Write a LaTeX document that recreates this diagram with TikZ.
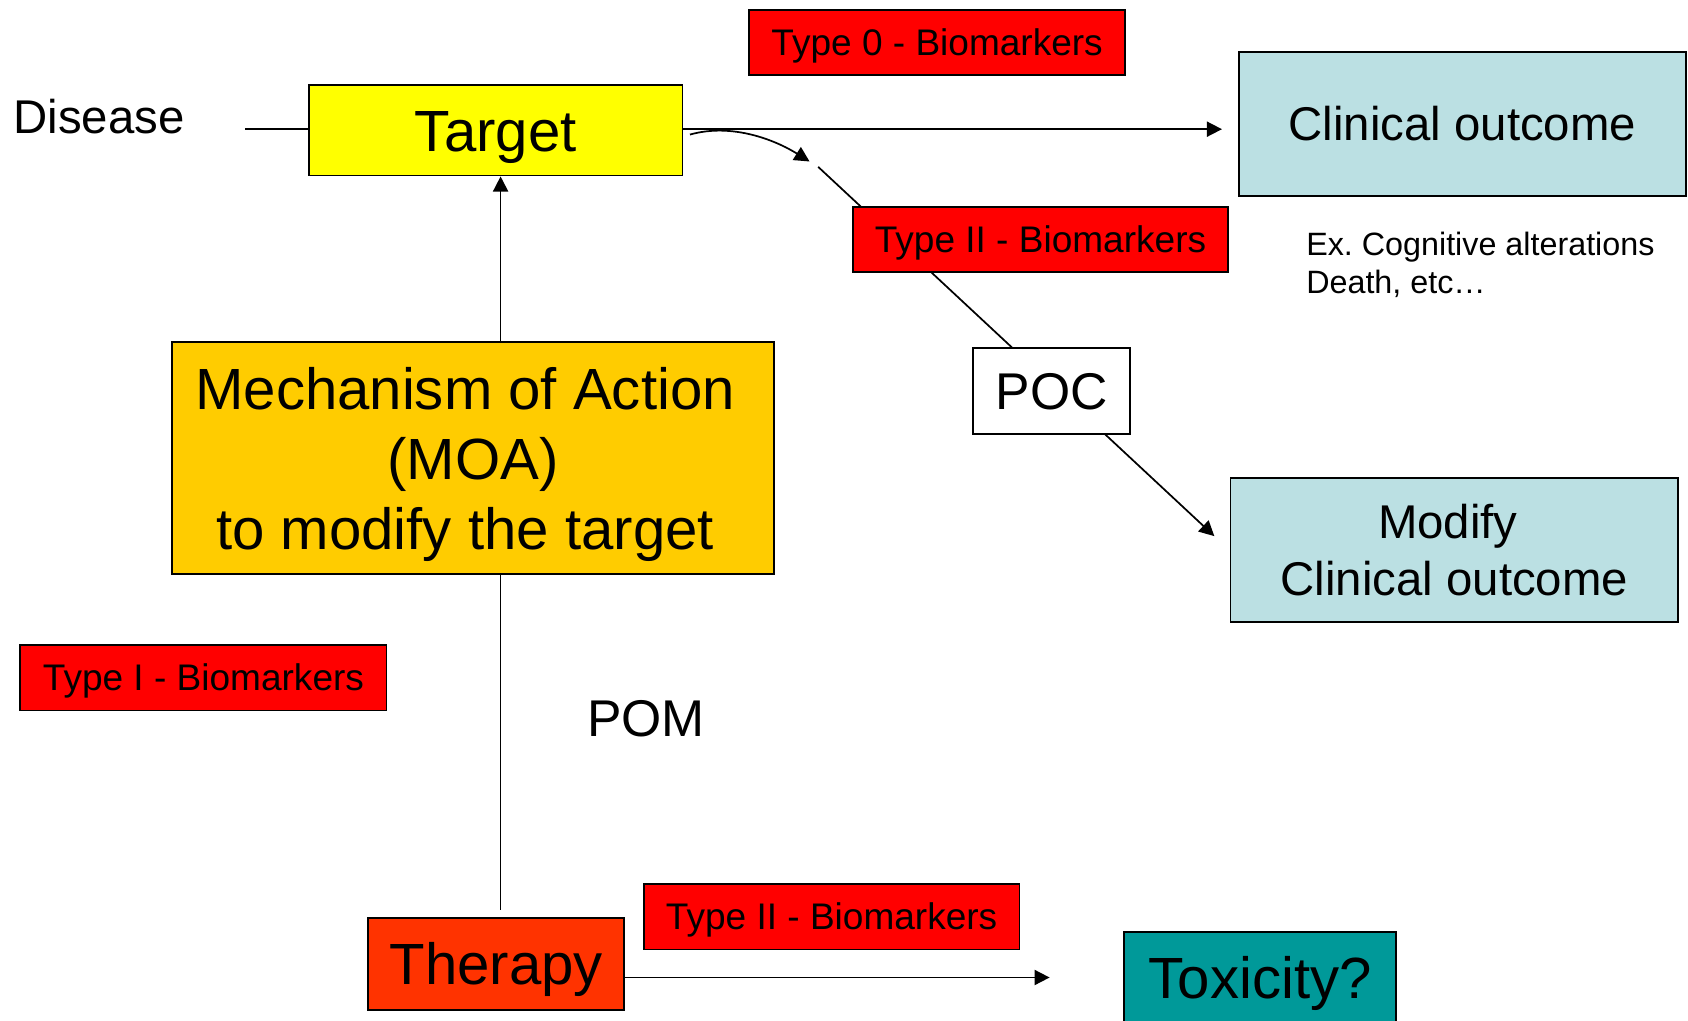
\documentclass[tikz,border=0pt]{standalone}
\usepackage{fontspec}
\setmainfont{Liberation Sans}
\usetikzlibrary{arrows.meta,backgrounds}
\definecolor{bmred}{HTML}{FF0000}
\definecolor{tgtyellow}{HTML}{FFFF00}
\definecolor{moaorange}{HTML}{FFCC00}
\definecolor{therapyred}{HTML}{FF3300}
\definecolor{lblue}{HTML}{BBE0E3}
\definecolor{toxteal}{HTML}{009999}
\tikzset{
  box/.style={draw=black, line width=0.9pt, inner sep=0pt, align=center},
  conn/.style={line width=0.8pt},
  arr/.style={conn, -{Triangle[length=7pt,width=7pt]}},
  fA/.style={font=\fontsize{27}{32.5}\selectfont, text height=25.65pt, text depth=6.32pt},
  fB/.style={font=\fontsize{22}{26.5}\selectfont, text height=20.9pt, text depth=5.15pt},
  fC/.style={font=\fontsize{24}{28.8}\selectfont, text height=22.8pt, text depth=5.6pt},
  fD/.style={font=\fontsize{17.2}{20.6}\selectfont, text height=16.3pt, text depth=4.0pt},
  bmbox/.style={box, fill=bmred, fD, minimum width=174.5pt, minimum height=30.5pt}
}
\begin{document}
\begin{tikzpicture}[x=0.5pt,y=-0.5pt]
\useasboundingbox (0,0) rectangle (1568,948);
\clip (0,0) rectangle (1568,948);

% nodes
\node[bmbox] (t0) at (870.5,39.5) {Type 0 - Biomarkers};
\node[box, fill=tgtyellow, fA, minimum width=173.5pt, minimum height=42pt] (target) at (460.5,121) {Target};
\node[box, fill=lblue, fB, minimum width=207.5pt, minimum height=67pt] (clin) at (1358.5,115) {Clinical outcome};
\node[bmbox] (t2a) at (966.5,222.5) {Type II - Biomarkers};
\node[box, fill=white, fC, minimum width=73pt, minimum height=40pt] (poc) at (977,363) {POC};
\node[box, fill=lblue, font=\fontsize{22}{26.5}\selectfont, minimum width=208pt, minimum height=67pt] (mod) at (1351,511) {Modify~\mbox{}\\Clinical outcome};
\node[box, fill=moaorange, font=\fontsize{27}{32.5}\selectfont, text depth=0pt, minimum width=279.5pt, minimum height=107.5pt] (moa) at (439.5,425.5) {Mechanism of Action~\mbox{}\\(MOA)\\to modify the target~\mbox{}};
\node[bmbox, minimum width=170pt] (t1) at (189,629.5) {Type I - Biomarkers};
\node[fC, inner sep=0pt] (pom) at (600,667) {POM};
\node[box, fill=therapyred, fA, minimum width=119pt, minimum height=42.5pt] (therapy) at (461,895.5) {Therapy};
\node[bmbox] (t2b) at (772.5,851.5) {Type II - Biomarkers};
\node[box, fill=toxteal, fA, minimum width=126.5pt, minimum height=42.5pt] (tox) at (1170.5,908.5) {Toxicity?};
\node[fB, anchor=west, inner sep=0pt] (disease) at (12,108.5) {Disease};
\node[font=\fontsize{15}{18}\selectfont, anchor=west, align=left, inner sep=0pt] (ex) at (1213,246) {Ex.\ Cognitive alterations\\Death, etc…};

% connectors
\coordinate (dstart) at (228,120);
\draw[conn] (dstart) -- (dstart -| target.west);
\draw[arr, shorten >=7.5pt] (target.east |- dstart) -- (clin.west |- dstart);

\coordinate (cs) at ([xshift=3pt,yshift=-2pt]target.east);
\coordinate (ce) at (752,150);
\draw[arr] (cs) .. controls (680,114) and (720,130) .. (ce);

\coordinate (ds) at (760,155);
\coordinate (de) at (1128,498);
\begin{scope}[on background layer]
\draw[arr] (ds) -- (de);
\end{scope}

\coordinate (mtop) at ([xshift=12.75pt]moa.north);
\draw[arr] (mtop) -- (mtop |- target.south);

\coordinate (mbot) at ([xshift=12.75pt]moa.south);
\coordinate (thgap) at (465,845);
\draw[conn] (mbot) -- (thgap);

\coordinate (tha) at ([yshift=-6.25pt]therapy.east);
\coordinate (txa) at (975,908);
\draw[arr] (tha) -- (txa);
\end{tikzpicture}
\end{document}
